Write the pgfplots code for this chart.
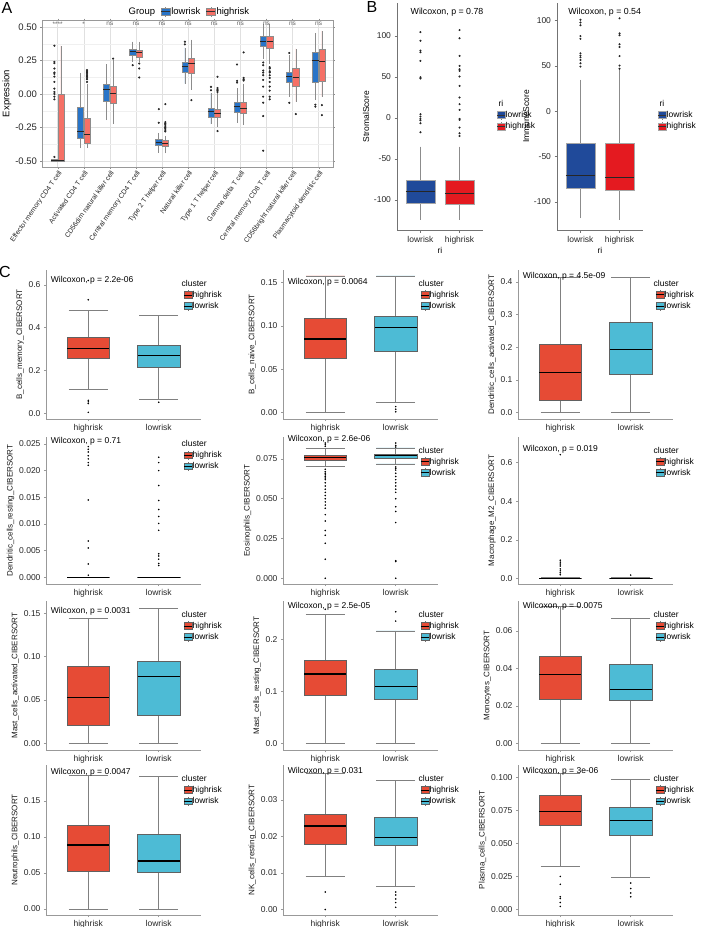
\documentclass[border=0pt]{standalone}
\usepackage{pgfplots}
\pgfplotsset{compat=1.18}
\usepgfplotslibrary{statistics}
\usepackage{fontspec}
\setmainfont{Liberation Sans}
\definecolor{Alow}{RGB}{40,116,200}
\definecolor{Ahigh}{RGB}{245,112,102}
\definecolor{Blow}{RGB}{32,74,154}
\definecolor{Bhigh}{RGB}{228,26,32}
\definecolor{Chigh}{RGB}{230,75,53}
\definecolor{Clow}{RGB}{77,187,213}
\newcommand\fs[1]{\fontsize{#1}{#1}\selectfont}
% C-panel box: pos, colour, median, uq, lq, uw, lw, outliers
\newcommand\CB[8]{\addplot[forget plot, fill=#2, draw=black!62, line width=0.5pt, mark=*, mark size=0.5pt, mark options={draw=black,fill=black},
  boxplot prepared={draw position=#1, median=#3, upper quartile=#4, lower quartile=#5, upper whisker=#6, lower whisker=#7, box extend=0.6, whisker extend=0.55}]
  table[row sep=\\, y index=0] {v\\ #8};}
\newcommand\CBn[7]{\addplot[forget plot, fill=#2, draw=black!62, line width=0.5pt,
  boxplot prepared={draw position=#1, median=#3, upper quartile=#4, lower quartile=#5, upper whisker=#6, lower whisker=#7, box extend=0.6, whisker extend=0.55}]
  coordinates {};}
\newcommand\AB[8]{\addplot[forget plot, fill=#2, draw=black!45, line width=0.5pt, mark=*, mark size=0.8pt, mark options={draw=black!85,fill=black!85},
  boxplot prepared={draw position=#1, median=#3, upper quartile=#4, lower quartile=#5, upper whisker=#6, lower whisker=#7, box extend=0.24, whisker extend=0}]
  table[row sep=\\, y index=0] {v\\ #8};}
\newcommand\ABn[7]{\addplot[forget plot, fill=#2, draw=black!45, line width=0.5pt,
  boxplot prepared={draw position=#1, median=#3, upper quartile=#4, lower quartile=#5, upper whisker=#6, lower whisker=#7, box extend=0.24, whisker extend=0}]
  coordinates {};}
\newcommand\BB[8]{\addplot[forget plot, fill=#2, draw=black!35, line width=0.5pt, mark=*, mark size=0.75pt, mark options={draw=black!85,fill=black!85},
  boxplot prepared={draw position=#1, median=#3, upper quartile=#4, lower quartile=#5, upper whisker=#6, lower whisker=#7, box extend=0.75, whisker extend=0}]
  table[row sep=\\, y index=0] {v\\ #8};}
\pgfplotsset{
 Ckey/.style={legend image code/.code={\draw[black!55,line width=0.5pt] (4pt,-4.5pt)--(4pt,4.5pt); \draw[fill=#1,draw=black!62,line width=0.5pt] (0pt,-3.3pt) rectangle (8pt,3.3pt); \draw[black,line width=0.8pt] (0pt,0pt)--(8pt,0pt);}},
 Bkey/.style={legend image code/.code={\draw[black!50,line width=0.5pt] (3.5pt,-4.5pt)--(3.5pt,4.5pt); \draw[fill=#1,draw=black!35,line width=0.4pt] (0pt,-3.6pt) rectangle (7.5pt,3.6pt); \draw[black!80,line width=0.5pt] (0pt,0pt)--(7.5pt,0pt);}},
 Akey/.style={legend image code/.code={\draw[black!45,line width=0.5pt] (4.5pt,-5pt)--(4.5pt,5pt); \draw[fill=#1,draw=black!45,line width=0.5pt] (0pt,-3.5pt) rectangle (9pt,3.5pt); \draw[black!80,line width=0.6pt] (0pt,0pt)--(9pt,0pt);}},
 every axis/.append style={scaled y ticks=false, scaled x ticks=false},
}
\newcommand\Clegend{\addlegendimage{empty legend}\addlegendentry{\hspace{-11pt}cluster}
 \addlegendimage{Ckey=Chigh}\addlegendentry{highrisk}
 \addlegendimage{Ckey=Clow}\addlegendentry{lowrisk}}
\pgfplotsset{
 Cax/.style={scale only axis, width=155pt, xmin=0.4, xmax=2.6, clip=false,
   axis x line*=bottom, axis y line*=left, axis line style={black!40, line width=0.6pt},
   xtick={1,2}, xticklabels={highrisk,lowrisk},
   tick align=outside, major tick length=2pt, tick style={black!40, line width=0.5pt},
   ticklabel style={font=\fs{8.5}, text=black!85},
   ylabel style={font=\fs{8}, text=black!90, yshift=-2pt},
   boxplot/draw direction=y,
   boxplot/every whisker/.style={draw=black!50, line width=0.6pt},
   boxplot/every median/.style={draw=black, line width=1.1pt},
   legend cell align=left,
   legend style={at={(axis description cs:0.885,0.935)}, anchor=north west, draw=none, fill=none, font=\fs{8.5}, inner sep=0pt, row sep=1.6pt,
     nodes={inner sep=0.5pt}},
 },
}
\begin{document}
\begin{tikzpicture}
\useasboundingbox (0pt,0pt) rectangle (701pt,-927pt);
\node[font=\fs{16}, anchor=center] at (7pt,-8pt) {A};
\node[font=\fs{16}, anchor=center] at (372pt,-7pt) {B};
\node[font=\fs{16}, anchor=center] at (5pt,-272pt) {C};

% ================= Panel A =================
\begin{axis}[scale only axis, at={(42pt,-20pt)}, anchor=north west, width=291pt, height=147pt,
  xmin=0.4, xmax=11.55, ymin=-0.545, ymax=0.552, clip=false,
  axis line style={black!40, line width=0.6pt},
  xtick={1,...,11},
  xticklabels={Effector memory CD4 T cell, Activated CD4 T cell, CD56dim natural killer cell, Central memory CD4 T cell, Type 2 T helper cell, Natural killer cell, Type 1 T helper cell, Gamma delta T cell, Central memory CD8 T cell, CD56bright natural killer cell, Plasmacytoid dendritic cell},
  xticklabel style={rotate=55, anchor=north east, font=\fs{6.9}, text=black!85, inner sep=1pt},
  ytick={-0.5,-0.25,0,0.25,0.5}, yticklabels={-0.50,-0.25,0.00,0.25,0.50},
  minor ytick={-0.375,-0.125,0.125,0.375},
  yticklabel style={font=\fs{9.5}, text=black!85},
  grid=both, major grid style={black!12, line width=0.5pt}, minor grid style={black!6, line width=0.4pt},
  tick align=outside, major tick length=1.5pt, minor tick length=0pt, tick style={black!45},
  ylabel={Expression}, ylabel style={font=\fs{9.5}, yshift=-3pt},
  boxplot/draw direction=y,
  boxplot/every whisker/.style={draw=black!45, line width=0.6pt},
  boxplot/every median/.style={draw=black!85, line width=0.7pt},
  legend columns=3,
  legend style={at={(axis description cs:0.505,1.056)}, anchor=center, draw=none, fill=none, font=\fs{9.5}, inner sep=0pt,
    nodes={inner sep=0.8pt}, /tikz/every even column/.append style={column sep=5pt}},
]
\AB{0.875}{Alow}{-0.495}{-0.49}{-0.5}{-0.49}{-0.5}{0.36\\0.24\\0.23\\0.19\\0.16\\0.15\\0.13\\0.09\\0.04\\0.015\\0\\-0.02\\-0.04\\-0.47\\}
\ABn{1.125}{Ahigh}{-0.495}{0.0}{-0.5}{0.36}{-0.5}
\ABn{1.875}{Alow}{-0.277}{-0.10}{-0.331}{0.158}{-0.405}
\AB{2.125}{Ahigh}{-0.301}{-0.182}{-0.364}{0.075}{-0.405}{0.178\\0.17\\0.16\\0.15\\0.14\\0.13\\0.12\\0.11\\0.09\\}
\ABn{2.875}{Alow}{0.033}{0.073}{-0.053}{0.22}{-0.195}
\AB{3.125}{Ahigh}{0.004}{0.058}{-0.066}{0.25}{-0.225}{0.264\\}
\AB{3.875}{Alow}{0.319}{0.334}{0.289}{0.39}{0.24}{0.215\\}
\AB{4.125}{Ahigh}{0.309}{0.326}{0.277}{0.39}{0.24}{0.227\\0.19\\0.123\\}
\AB{4.875}{Alow}{-0.359}{-0.339}{-0.381}{-0.29}{-0.438}{-0.113\\-0.215\\}
\AB{5.125}{Ahigh}{-0.368}{-0.349}{-0.393}{-0.31}{-0.443}{-0.076\\-0.21\\-0.22\\-0.23\\-0.24\\-0.25\\-0.26\\-0.27\\-0.28\\}
\AB{5.875}{Alow}{0.207}{0.24}{0.165}{0.345}{0.078}{0.39\\0.37\\}
\AB{6.125}{Ahigh}{0.227}{0.27}{0.158}{0.405}{0.03}{-0.046\\}
\AB{6.875}{Alow}{-0.133}{-0.103}{-0.175}{0.004}{-0.225}{0.053\\0.028\\}
\AB{7.125}{Ahigh}{-0.145}{-0.115}{-0.175}{0.01}{-0.245}{0.128\\0.045\\0.035\\0.025\\0.015\\-0.277\\}
\AB{7.875}{Alow}{-0.096}{-0.061}{-0.133}{0.041}{-0.215}{0.22\\0.098\\0.085\\}
\AB{8.125}{Ahigh}{-0.108}{-0.061}{-0.145}{0.078}{-0.232}{0.31\\0.12\\0.11\\0.10\\}
\AB{8.875}{Alow}{0.396}{0.433}{0.358}{0.525}{0.264}{0.235\\0.215\\0.175\\0.16\\0.14\\0.105\\0.055\\-0.02\\-0.065\\-0.165\\-0.423\\}
\AB{9.125}{Ahigh}{0.396}{0.431}{0.339}{0.525}{0.227}{0.2\\0.19\\0.17\\0.16\\0.14\\0.12\\0.09\\0.055\\0.025\\-0.02\\-0.04\\}
\AB{9.875}{Alow}{0.133}{0.165}{0.086}{0.289}{-0.021}{0.306\\-0.066\\}
\AB{10.125}{Ahigh}{0.123}{0.19}{0.058}{0.339}{-0.058}{-0.15\\}
\AB{10.875}{Alow}{0.252}{0.314}{0.09}{0.455}{-0.046}{-0.08\\-0.095\\}
\AB{11.125}{Ahigh}{0.247}{0.331}{0.095}{0.47}{-0.02}{-0.083\\-0.158\\}
\node[font=\fs{6.5}, text=black!60] at (axis cs:1,0.522) {****};
\node[font=\fs{6.5}, text=black!60] at (axis cs:2,0.522) {*};
\node[font=\fs{6.5}, text=black!60] at (axis cs:3,0.522) {ns};
\node[font=\fs{6.5}, text=black!60] at (axis cs:4,0.522) {ns};
\node[font=\fs{6.5}, text=black!60] at (axis cs:5,0.522) {ns};
\node[font=\fs{6.5}, text=black!60] at (axis cs:6,0.522) {ns};
\node[font=\fs{6.5}, text=black!60] at (axis cs:7,0.522) {ns};
\node[font=\fs{6.5}, text=black!60] at (axis cs:8,0.522) {ns};
\node[font=\fs{6.5}, text=black!60] at (axis cs:9,0.522) {ns};
\node[font=\fs{6.5}, text=black!60] at (axis cs:10,0.522) {ns};
\node[font=\fs{6.5}, text=black!60] at (axis cs:11,0.522) {ns};
\addlegendimage{empty legend}\addlegendentry{Group}
\addlegendimage{Akey=Alow}\addlegendentry{lowrisk}
\addlegendimage{Akey=Ahigh}\addlegendentry{highrisk}
\end{axis}

% ================= Panel B =================
\pgfplotsset{Bax/.style={scale only axis, width=86pt, height=227pt, xmin=0.4, xmax=2.6, clip=false,
   axis x line*=bottom, axis y line*=left, axis line style={black!55, line width=0.6pt},
   xtick={1,2}, xticklabels={lowrisk,highrisk},
   ytick={-100,-50,0,50,100}, yticklabels={-100,-50,0,50,100},
   tick align=outside, major tick length=2.5pt, tick style={black!55, line width=0.5pt},
   ticklabel style={font=\fs{8.5}, text=black!85},
   ylabel style={font=\fs{8.5}, yshift=-2pt}, xlabel style={font=\fs{8.5}, yshift=3pt},
   xlabel={ri},
   boxplot/draw direction=y,
   boxplot/every whisker/.style={draw=black!45, line width=0.6pt},
   boxplot/every median/.style={draw=black!85, line width=0.6pt},
   legend cell align=left,
   legend style={anchor=north west, draw=none, fill=none, font=\fs{8.5}, inner sep=0pt, row sep=2pt,
     nodes={inner sep=0.5pt}},
}}
\begin{axis}[Bax, at={(397pt,-3pt)}, anchor=north west, ymin=-136.6, ymax=140, ylabel={StromalScore},
  legend style={at={(axis description cs:1.163,0.575)}}]
\BB{1}{Blow}{-89.8}{-76.4}{-104}{-35}{-124.4}{104.5\\94\\82\\80\\69.5\\49.6\\48\\4.5\\1.6\\-1.2\\-3\\-6.5\\-17.5\\}
\BB{2}{Bhigh}{-91.9}{-76.4}{-105.3}{-35}{-124.4}{107\\97\\75.6\\63.4\\59.3\\57.3\\50.4\\39\\24.8\\16.7\\9.8\\-1.2\\-2.4\\-11.8\\-18.7\\-22\\}
\node[anchor=west, font=\fs{8.8}] at (axis cs:0.66,129) {Wilcoxon, p = 0.78};
\addlegendimage{empty legend}\addlegendentry{\hspace{-9.5pt}ri}
\addlegendimage{Bkey=Blow}\addlegendentry{lowrisk}
\addlegendimage{Bkey=Bhigh}\addlegendentry{highrisk}
\end{axis}
\begin{axis}[Bax, at={(557pt,-3pt)}, anchor=north west, ymin=-130.8, ymax=119.5, ylabel={ImmuneScore},
  legend style={at={(axis description cs:1.174,0.575)}}]
\BB{1}{Blow}{-71}{-35}{-84.6}{34.7}{-117.6}{101\\98\\95\\83\\80\\64\\61.5\\59.6\\56.7\\53\\49.4\\}
\BB{2}{Bhigh}{-72.5}{-35}{-87.5}{45.7}{-119.4}{102.6\\86\\84\\74\\71\\61\\50.5\\47\\}
\node[anchor=west, font=\fs{8.8}] at (axis cs:0.6,109.6) {Wilcoxon, p = 0.54};
\addlegendimage{empty legend}\addlegendentry{\hspace{-9.5pt}ri}
\addlegendimage{Bkey=Blow}\addlegendentry{lowrisk}
\addlegendimage{Bkey=Bhigh}\addlegendentry{highrisk}
\end{axis}

% ================= Panel C =================
% Row 1
\begin{axis}[Cax, at={(46pt,-270pt)}, anchor=north west, height=149pt, ymin=-0.026, ymax=0.669,
  ytick={0,0.2,0.4,0.6}, yticklabels={0.0,0.2,0.4,0.6}, ylabel={B\_cells\_memory\_CIBERSORT}]
\CB{1}{Chigh}{0.3046}{0.3535}{0.2566}{0.48}{0.1108}{0.62\\0.53\\0.061\\0.054\\0.046\\0.005\\}
\CB{2}{Clow}{0.272}{0.32}{0.215}{0.458}{0.0646}{0.052\\}
\node[anchor=west, font=\fs{8.5}] at (axis cs:0.42,0.62) {Wilcoxon, p = 2.2e-06};
\Clegend
\end{axis}
\begin{axis}[Cax, at={(283pt,-270pt)}, anchor=north west, height=149pt, ymin=-0.0073, ymax=0.1647,
  ytick={0,0.05,0.1,0.15}, yticklabels={0.00,0.05,0.10,0.15}, ylabel={B\_cells\_naive\_CIBERSORT}]
\CBn{1}{Chigh}{0.085}{0.109}{0.0628}{0.158}{0.0}
\CB{2}{Clow}{0.098}{0.111}{0.0704}{0.158}{0.0115}{0.007\\0.004\\0.001\\}
\node[anchor=west, font=\fs{8.5}] at (axis cs:0.42,0.151) {Wilcoxon, p = 0.0064};
\Clegend
\end{axis}
\begin{axis}[Cax, at={(518pt,-270pt)}, anchor=north west, height=149pt, ymin=-0.02, ymax=0.437,
  ytick={0,0.1,0.2,0.3,0.4}, yticklabels={0.0,0.1,0.2,0.3,0.4}, ylabel={Dendritic\_cells\_activated\_CIBERSORT}]
\CBn{1}{Chigh}{0.123}{0.21}{0.037}{0.415}{0.0}
\CBn{2}{Clow}{0.192}{0.277}{0.116}{0.415}{0.0}
\node[anchor=west, font=\fs{8.5}] at (axis cs:0.42,0.419) {Wilcoxon, p = 4.5e-09};
\Clegend
\end{axis}
% Row 2
\begin{axis}[Cax, at={(46pt,-437pt)}, anchor=north west, height=147pt, ymin=-0.00126, ymax=0.0263,
  ytick={0,0.005,0.01,0.015,0.02,0.025}, yticklabels={0.000,0.005,0.010,0.015,0.020,0.025}, ylabel={Dendritic\_cells\_resting\_CIBERSORT},
  legend style={at={(axis description cs:0.885,0.98)}}]
\CB{1}{Chigh}{0}{0.00002}{0}{0}{0}{0.0245\\0.024\\0.0235\\0.0228\\0.0222\\0.0215\\0.021\\0.0145\\0.0068\\0.0055\\0.0025\\0.0004\\}
\CB{2}{Clow}{0}{0.00002}{0}{0}{0}{0.0225\\0.0215\\0.02\\0.0172\\0.0144\\0.0127\\0.0114\\0.0101\\0.0088\\0.0044\\0.004\\0.0034\\0.0026\\0.0022\\}
\node[anchor=west, font=\fs{8.5}] at (axis cs:0.42,0.0255) {Wilcoxon, p = 0.71};
\Clegend
\end{axis}
\begin{axis}[Cax, at={(283pt,-437pt)}, anchor=north west, height=147pt, ymin=-0.0036, ymax=0.0888,
  ytick={0,0.025,0.05,0.075}, yticklabels={0.000,0.025,0.050,0.075}, ylabel={Eosinophils\_CIBERSORT}]
\CB{1}{Chigh}{0.0758}{0.0771}{0.0744}{0.0817}{0.0702}{0.085\\0.084\\0.083\\0.0685\\0.067\\0.066\\0.065\\0.064\\0.063\\0.062\\0.060\\0.058\\0.056\\0.054\\0.052\\0.050\\0.048\\0.046\\0.044\\0.040\\0.036\\0.030\\0.027\\0.022\\0.012\\0.0\\}
\CB{2}{Clow}{0.0769}{0.0779}{0.0752}{0.0819}{0.0719}{0.085\\0.0835\\0.0825\\0.070\\0.069\\0.068\\0.066\\0.064\\0.062\\0.060\\0.058\\0.056\\0.054\\0.050\\0.045\\0.042\\0.035\\0.011\\0.0105\\0.0\\}
\node[anchor=west, font=\fs{8.5}] at (axis cs:0.42,0.0875) {Wilcoxon, p = 2.6e-06};
\Clegend
\end{axis}
\begin{axis}[Cax, at={(518pt,-437pt)}, anchor=north west, height=147pt, ymin=-0.028, ymax=0.731,
  ytick={0,0.2,0.4,0.6}, yticklabels={0.0,0.2,0.4,0.6}, ylabel={Macrophage\_M2\_CIBERSORT}]
\CB{1}{Chigh}{0.002}{0.004}{0}{0.006}{0}{0.64\\0.095\\0.085\\0.075\\0.065\\0.05\\0.04\\0.03\\0.02\\}
\CB{2}{Clow}{0.001}{0.003}{0}{0.005}{0}{0.018\\}
\node[anchor=west, font=\fs{8.5}] at (axis cs:0.42,0.665) {Wilcoxon, p = 0.019};
\Clegend
\end{axis}
% Row 3
\begin{axis}[Cax, at={(46pt,-601pt)}, anchor=north west, height=149pt, ymin=-0.0077, ymax=0.164,
  ytick={0,0.05,0.1,0.15}, yticklabels={0.00,0.05,0.10,0.15}, ylabel={Mast\_cells\_activated\_CIBERSORT}]
\CBn{1}{Chigh}{0.0531}{0.0892}{0.0211}{0.144}{0}
\CBn{2}{Clow}{0.0769}{0.0942}{0.0318}{0.1558}{0}
\node[anchor=west, font=\fs{8.5}] at (axis cs:0.42,0.1525) {Wilcoxon, p = 0.0031};
\Clegend
\end{axis}
\begin{axis}[Cax, at={(283pt,-601pt)}, anchor=north west, height=149pt, ymin=-0.013, ymax=0.2737,
  ytick={0,0.1,0.2}, yticklabels={0.0,0.1,0.2}, ylabel={Mast\_cells\_resting\_CIBERSORT}]
\CB{1}{Chigh}{0.1333}{0.16}{0.0929}{0.248}{0}{0.2577\\}
\CB{2}{Clow}{0.1088}{0.1423}{0.0846}{0.216}{0}{0.253\\0.235\\}
\node[anchor=west, font=\fs{8.5}] at (axis cs:0.42,0.263) {Wilcoxon, p = 2.5e-05};
\Clegend
\end{axis}
\begin{axis}[Cax, at={(518pt,-601pt)}, anchor=north west, height=149pt, ymin=-0.0036, ymax=0.076,
  ytick={0,0.02,0.04,0.06}, yticklabels={0.00,0.02,0.04,0.06}, ylabel={Monocytes\_CIBERSORT}]
\CBn{1}{Chigh}{0.0369}{0.0463}{0.0237}{0.073}{0}
\CBn{2}{Clow}{0.0288}{0.0422}{0.0231}{0.0668}{0}
\node[anchor=west, font=\fs{8.5}] at (axis cs:0.42,0.0733) {Wilcoxon, p = 0.0075};
\Clegend
\end{axis}
% Row 4
\begin{axis}[Cax, at={(46pt,-765pt)}, anchor=north west, height=150pt, ymin=-0.0083, ymax=0.2,
  ytick={0,0.05,0.1,0.15}, yticklabels={0.00,0.05,0.10,0.15}, ylabel={Neutrophils\_CIBERSORT}]
\CBn{1}{Chigh}{0.0889}{0.1167}{0.0518}{0.186}{0}
\CBn{2}{Clow}{0.0667}{0.1037}{0.051}{0.1847}{0}
\node[anchor=west, font=\fs{8.5}] at (axis cs:0.42,0.19) {Wilcoxon, p = 0.0047};
\Clegend
\end{axis}
\begin{axis}[Cax, at={(283pt,-765pt)}, anchor=north west, height=150pt, ymin=-0.0015, ymax=0.0396,
  ytick={0,0.01,0.02,0.03}, yticklabels={0.00,0.01,0.02,0.03}, ylabel={NK\_cells\_resting\_CIBERSORT}]
\CB{1}{Chigh}{0.0229}{0.0262}{0.0179}{0.0373}{0.0091}{0.0048\\0.0\\}
\CB{2}{Clow}{0.0198}{0.0253}{0.0177}{0.0353}{0.0064}{0.0048\\0.004\\0.0029\\0.0019\\0.0006\\}
\node[anchor=west, font=\fs{8.5}] at (axis cs:0.42,0.0378) {Wilcoxon, p = 0.031};
\Clegend
\end{axis}
\begin{axis}[Cax, at={(518pt,-765pt)}, anchor=north west, height=150pt, ymin=-0.0042, ymax=0.1093,
  ytick={0,0.025,0.05,0.075,0.1}, yticklabels={0.000,0.025,0.050,0.075,0.100}, ylabel={Plasma\_cells\_CIBERSORT}]
\CB{1}{Chigh}{0.0739}{0.0866}{0.0636}{0.103}{0.0323}{0.025\\0.019\\0.0096\\0.0083\\0.0053\\0.0023\\}
\CB{2}{Clow}{0.0671}{0.077}{0.0558}{0.0985}{0.0242}{0.02\\0.0158\\0.0125\\0.0096\\}
\node[anchor=west, font=\fs{8.5}] at (axis cs:0.42,0.1042) {Wilcoxon, p = 3e-06};
\Clegend
\end{axis}
\end{tikzpicture}
\end{document}
